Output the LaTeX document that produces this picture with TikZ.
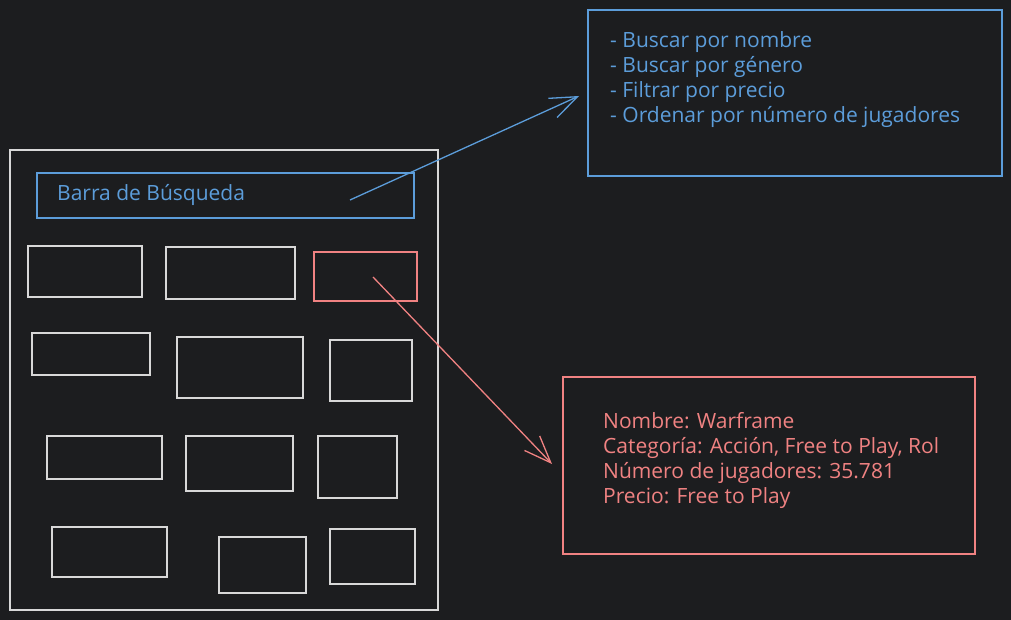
\documentclass[tikz,border=0pt]{standalone}
\usepackage{fontspec}
\setmainfont{Open Sans}
\usetikzlibrary{arrows.meta}
\definecolor{bg}{HTML}{1C1D1F}
\definecolor{cblue}{HTML}{5C9DDA}
\definecolor{cred}{HTML}{F08282}
\definecolor{cgray}{HTML}{D8D8D8}
\tikzset{
  wbox/.style={draw=cgray, line width=1.1pt, inner sep=0pt, rectangle},
  bbox/.style={draw=cblue, line width=1.3pt, inner sep=0pt, rectangle},
  rbox/.style={draw=cred, line width=1.3pt, inner sep=0pt, rectangle},
  btxt/.style={text=cblue, anchor=base west, inner sep=0pt, font=\fontsize{21}{25}\selectfont},
  rtxt/.style={text=cred, anchor=base west, inner sep=0pt, font=\fontsize{21}{25}\selectfont},
  barrow/.style={draw=cblue, line width=1.3pt, -{Straight Barb[length=27pt,width=21pt]}},
  rarrow/.style={draw=cred, line width=1.3pt, -{Straight Barb[length=27pt,width=21pt]}},
}
\begin{document}
\begin{tikzpicture}[x=1pt,y=-1pt]
\fill[bg] (0,0) rectangle (1011,620);
\useasboundingbox (0,0) rectangle (1011,620);
% main frame
\node[wbox, minimum width=428pt, minimum height=460pt] (frame) at (224,380) {};
% search bar
\node[bbox, minimum width=377pt, minimum height=45pt] (search) at (225.5,195.5) {};
\node[btxt] (searchtxt) at (57,201) {Barra de Búsqueda};
% grid
\node[wbox, minimum width=114pt, minimum height=51pt] (g11) at (85,271.5) {};
\node[wbox, minimum width=129pt, minimum height=52pt] (g12) at (230.5,273) {};
\node[rbox, minimum width=103pt, minimum height=49pt] (g13) at (365.5,276.5) {};
\node[wbox, minimum width=118pt, minimum height=42pt] (g21) at (91,354) {};
\node[wbox, minimum width=126pt, minimum height=61pt] (g22) at (240,367.5) {};
\node[wbox, minimum width=82pt, minimum height=61pt] (g23) at (371,370.5) {};
\node[wbox, minimum width=115pt, minimum height=43pt] (g31) at (104.5,457.5) {};
\node[wbox, minimum width=107pt, minimum height=55pt] (g32) at (239.5,463.5) {};
\node[wbox, minimum width=79pt, minimum height=62pt] (g33) at (357.5,467) {};
\node[wbox, minimum width=115pt, minimum height=50pt] (g41) at (109.5,552) {};
\node[wbox, minimum width=87pt, minimum height=56pt] (g42) at (262.5,565) {};
\node[wbox, minimum width=85pt, minimum height=55pt] (g43) at (372.5,556.5) {};
% info boxes
\node[bbox, minimum width=414pt, minimum height=166pt] (binfo) at (795,93) {};
\node[btxt] (b1) at (610,48) {- Buscar por nombre};
\node[btxt] (b2) at (610,73) {- Buscar por género};
\node[btxt] (b3) at (610,98) {- Filtrar por precio};
\node[btxt] (b4) at (610,123) {- Ordenar por número de jugadores};
\node[rbox, minimum width=412pt, minimum height=177pt] (rinfo) at (769,465.5) {};
\node[rtxt] (r1) at (603,428) {Nombre: Warframe};
\node[rtxt] (r2) at (603,453) {Categoría: Acción, Free to Play, Rol};
\node[rtxt] (r3) at (603,478) {Número de jugadores: 35.781};
\node[rtxt] (r4) at (603,503) {Precio: Free to Play};
% arrows
\coordinate (bs) at (350,200);
\coordinate (be) at (579,96);
\coordinate (rs) at (373,277);
\coordinate (re) at (552,464);
\draw[barrow] (bs) -- (be);
\draw[rarrow] (rs) -- (re);
\end{tikzpicture}
\end{document}
